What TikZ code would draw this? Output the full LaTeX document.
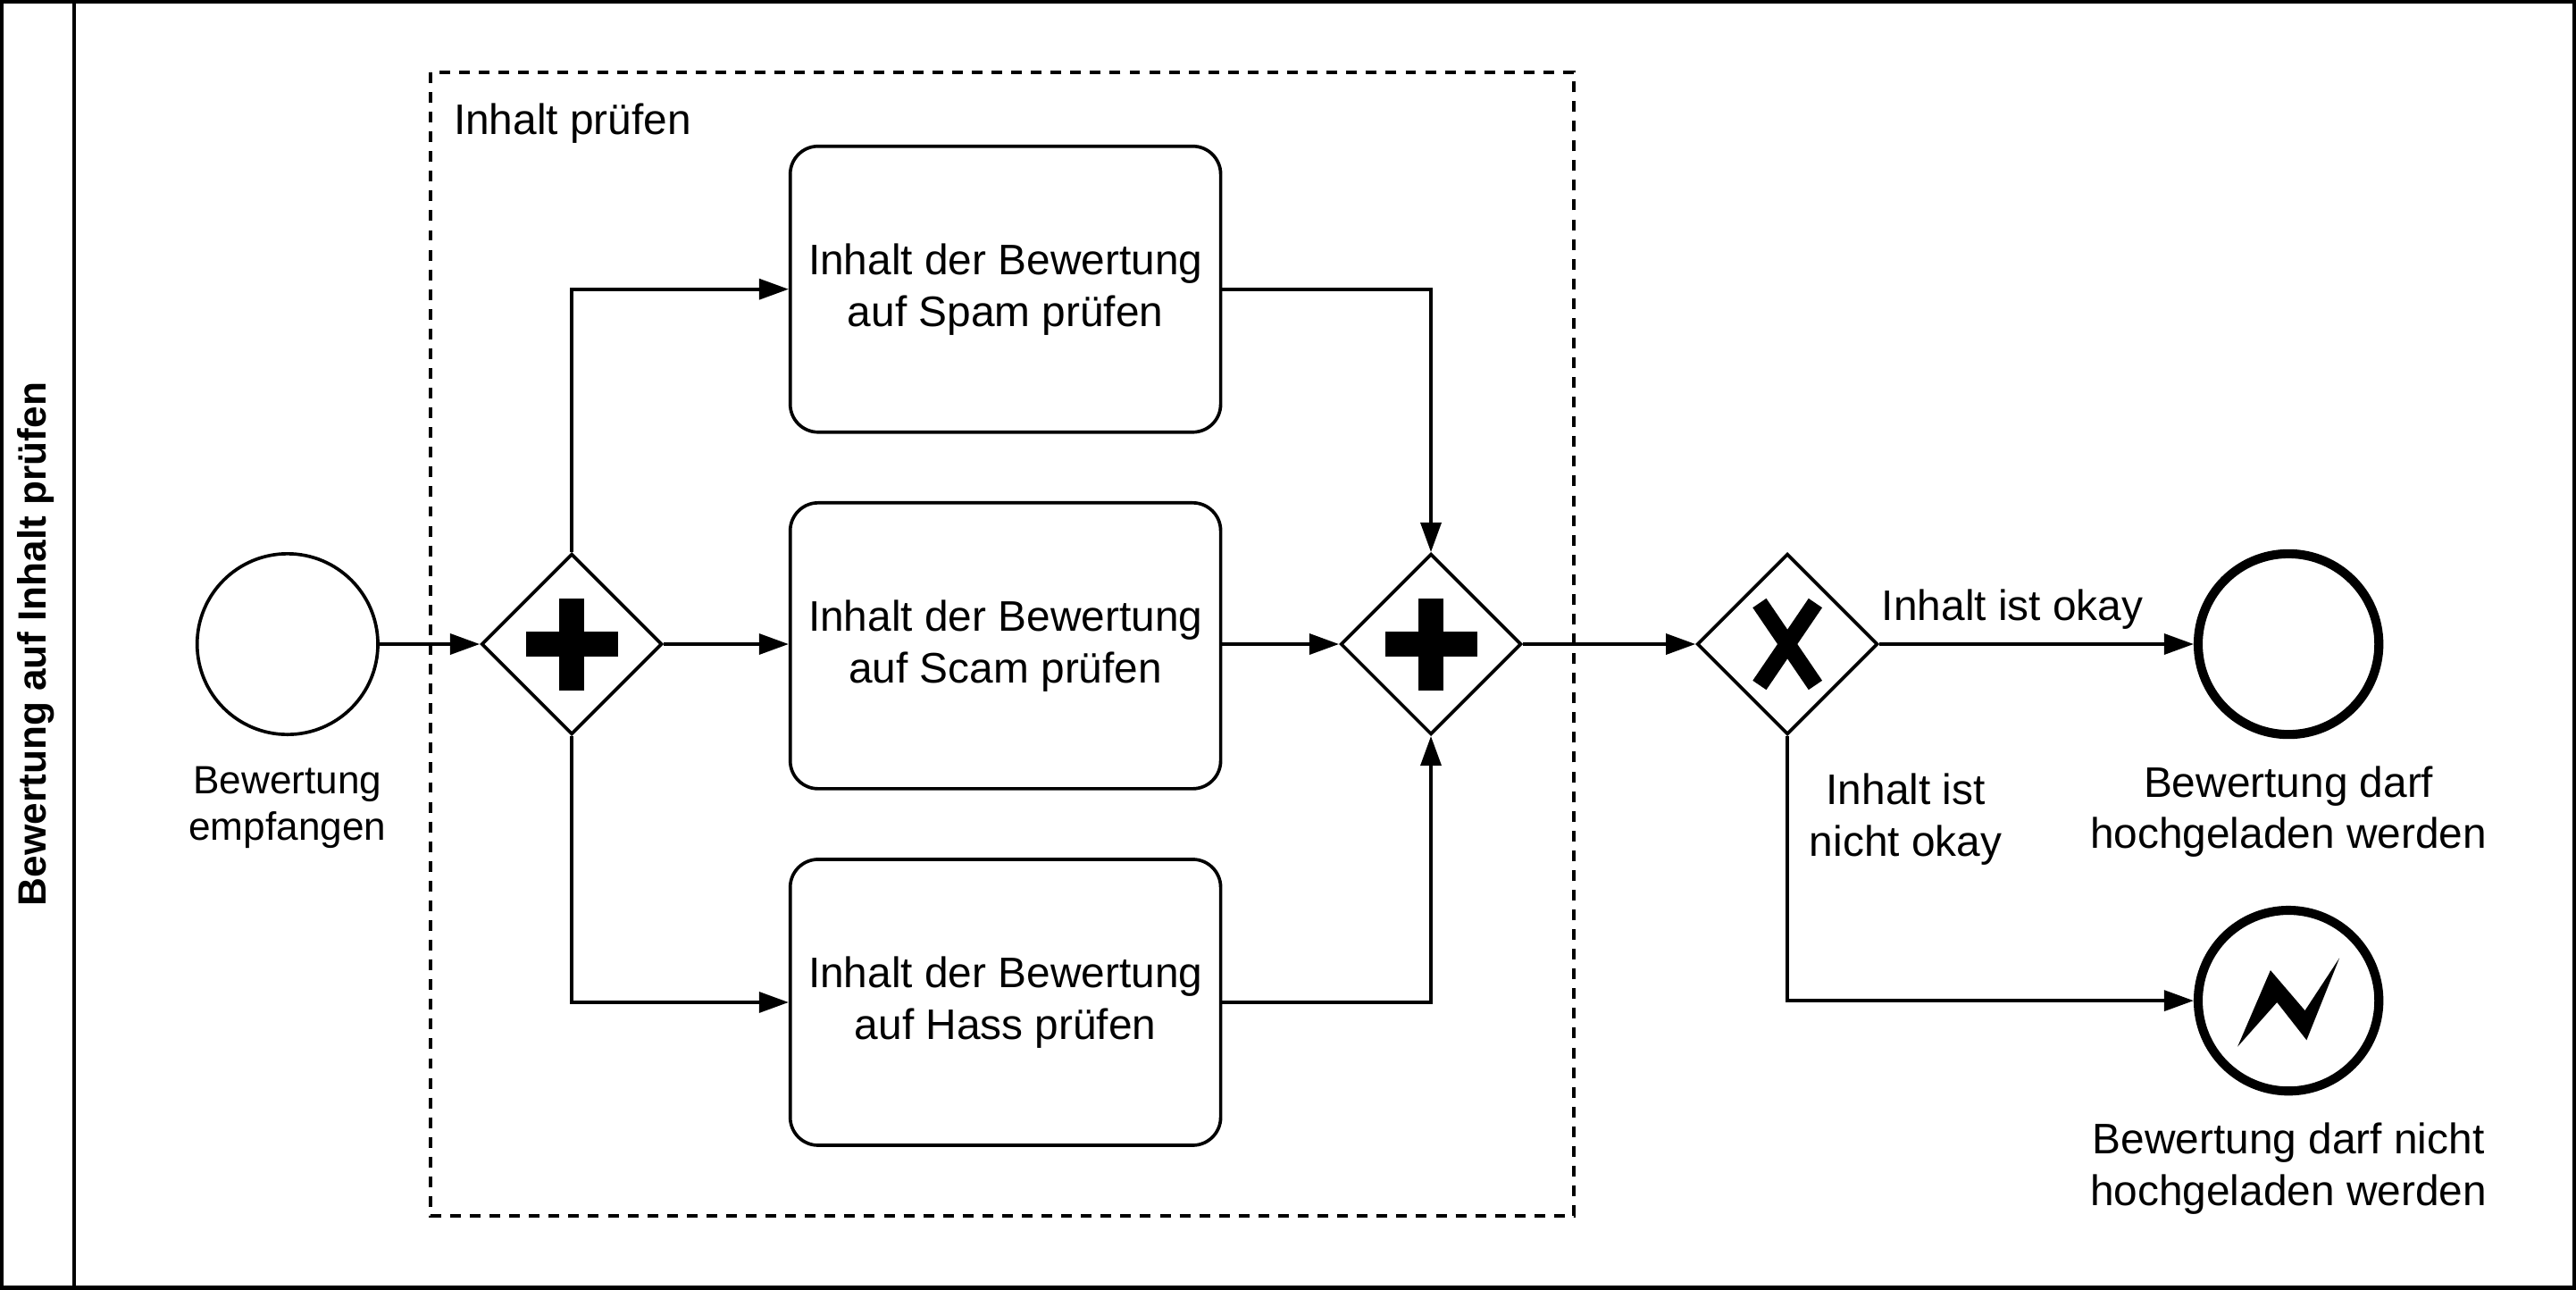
\documentclass[tikz,border=0pt]{standalone}
\usepackage{fontspec}
\setmainfont{Liberation Sans}
\usetikzlibrary{shapes.geometric,arrows.meta,calc}
\begin{document}
\begin{tikzpicture}[x=1pt,y=-1pt,
  every node/.style={font=\fontsize{26}{31.5}\selectfont},
  ln/.style={line width=2pt},
  flow/.style={ln,-{Triangle[length=18pt,width=12.5pt]}},
  task/.style={draw,ln,rounded corners=17pt,minimum width=262pt,minimum height=174pt,align=center,inner sep=0pt},
  gate/.style={draw,ln,diamond,minimum width=110pt,minimum height=110pt,inner sep=0pt},
  startev/.style={draw,ln,circle,minimum size=110pt,inner sep=0pt},
  endev/.style={draw,line width=5.5pt,circle,minimum size=110pt,inner sep=0pt},
  lbl/.style={align=center,inner sep=0pt},
]
\useasboundingbox (0,0) rectangle (1568,785);
\draw[line width=2.4pt] (1.2,1.2) rectangle (1566.8,783.8);
\draw[line width=2.4pt] (45,0) -- (45,785);
\node[rotate=90,font=\bfseries\fontsize{24}{29}\selectfont] (lane) at (22,392) {Bewertung auf Inhalt prüfen};
\draw[ln,dash pattern=on 6.5pt off 5.5pt] (262,44) rectangle (958,740);
\node[anchor=base west,inner sep=0pt] (grp) at (276,82) {Inhalt prüfen};

\node[startev] (s) at (175,392) {};
\node[lbl,font=\fontsize{24}{28.5}\selectfont] (sl) at (175,491.5) {Bewertung\\empfangen};
\node[gate] (g1) at (348,392) {};
\node[task] (t1) at (612,176) {Inhalt der Bewertung\\auf Spam prüfen};
\node[task] (t2) at (612,393) {Inhalt der Bewertung\\auf Scam prüfen};
\node[task] (t3) at (612,610) {Inhalt der Bewertung\\auf Hass prüfen};
\node[gate] (g2) at (871,392) {};
\node[gate] (g3) at (1088,392) {};
\node[endev] (e1) at (1393,392) {};
\node[endev] (e2) at (1393,609) {};

\foreach \g in {g1,g2}{
  \fill ($(\g)+(-28,-7.5)$) rectangle ($(\g)+(28,7.5)$);
  \fill ($(\g)+(-7.5,-28)$) rectangle ($(\g)+(7.5,28)$);
}
\draw[line width=10pt] ($(g3)+(-17,-25)$) -- ($(g3)+(17,25)$);
\draw[line width=10pt] ($(g3)+(17,-25)$) -- ($(g3)+(-17,25)$);
\fill ($(e2)+(-31,28)$) -- ($(e2)+(-11,-18.5)$) -- ($(e2)+(10,6)$) -- ($(e2)+(31,-26)$) -- ($(e2)+(11,24)$) -- ($(e2)+(-7,1)$) -- cycle;

\draw[flow] (s) -- (g1);
\draw[flow] (g1.north) |- (t1.west);
\draw[flow] (g1) -- (t2.west |- g1);
\draw[flow] (g1.south) |- (t3.west);
\draw[flow] (t1.east) -| (g2.north);
\draw[flow] (t2.east |- g2) -- (g2);
\draw[flow] (t3.east) -| (g2.south);
\draw[flow] (g2) -- (g3);
\draw[flow] (g3) -- (e1);
\draw[flow] (g3.south) |- (e2.west);

\node[lbl] (l1) at (1225,371) {Inhalt ist okay};
\node[lbl] (l2) at (1160,498.5) {Inhalt ist\\nicht okay};
\node[lbl] (l3) at (1393,494) {Bewertung darf\\hochgeladen werden};
\node[lbl] (l4) at (1393,711) {Bewertung darf nicht\\hochgeladen werden};
\end{tikzpicture}
\end{document}
